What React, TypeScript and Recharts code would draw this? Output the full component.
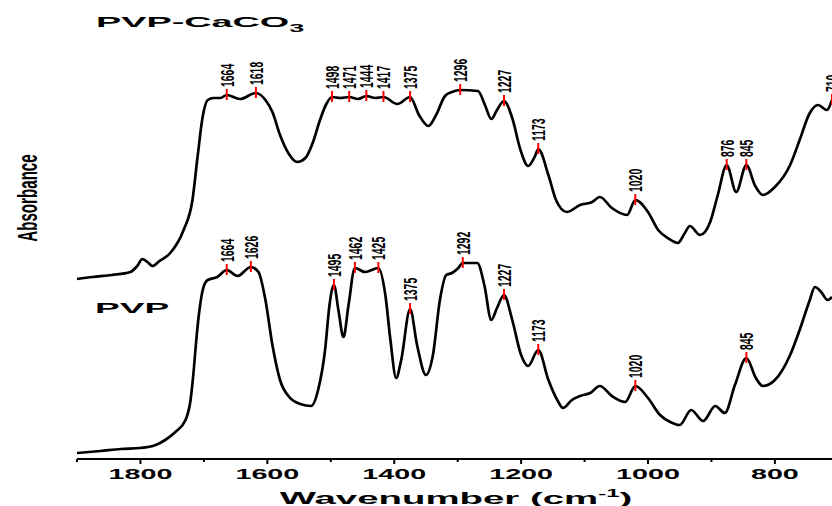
import { ComposedChart, Line, XAxis, YAxis } from 'recharts';

// wavenumber (cm-1) and absorbance (a.u.)
const compositeWn = [1900, 1875, 1845, 1816, 1805, 1797, 1789, 1781, 1770, 1753, 1732, 1718, 1710, 1702, 1694, 1685, 1674, 1664, 1643, 1618, 1603, 1592, 1580, 1567, 1553, 1540, 1528, 1517, 1507, 1498, 1485, 1471, 1457, 1444, 1430, 1417, 1395, 1375, 1361, 1346, 1334, 1320, 1309, 1296, 1268, 1257, 1247, 1238, 1227, 1214, 1201, 1189, 1178, 1173, 1157, 1145, 1128, 1107, 1088, 1076, 1057, 1033, 1020, 1000, 984, 969, 953, 942, 934, 918, 902, 890, 876, 861, 845, 831, 819, 800, 776, 761, 745, 732, 718, 710];
const compositeAbs = [1.8, 1.82, 1.84, 1.87, 1.93, 2.0, 1.97, 1.93, 1.98, 2.06, 2.29, 2.59, 3.02, 3.42, 3.59, 3.61, 3.61, 3.64, 3.6, 3.66, 3.59, 3.47, 3.24, 3.06, 2.97, 3.01, 3.17, 3.39, 3.55, 3.62, 3.61, 3.62, 3.6, 3.63, 3.61, 3.62, 3.55, 3.62, 3.44, 3.33, 3.44, 3.63, 3.67, 3.69, 3.68, 3.54, 3.4, 3.49, 3.58, 3.41, 3.09, 2.93, 3.03, 3.1, 2.84, 2.59, 2.47, 2.54, 2.57, 2.62, 2.51, 2.44, 2.59, 2.47, 2.29, 2.21, 2.16, 2.26, 2.33, 2.24, 2.37, 2.64, 2.94, 2.67, 2.94, 2.73, 2.64, 2.72, 2.94, 3.19, 3.46, 3.54, 3.49, 3.59];

const pvpWn = [1900, 1863, 1831, 1800, 1776, 1761, 1745, 1729, 1721, 1716, 1712, 1707, 1701, 1694, 1679, 1664, 1647, 1626, 1614, 1603, 1592, 1580, 1564, 1548, 1531, 1520, 1509, 1502, 1495, 1488, 1480, 1472, 1462, 1446, 1425, 1414, 1406, 1397, 1389, 1375, 1364, 1350, 1339, 1328, 1318, 1309, 1299, 1292, 1269, 1258, 1247, 1238, 1227, 1214, 1200, 1189, 1173, 1157, 1143, 1134, 1120, 1107, 1091, 1076, 1057, 1036, 1020, 1000, 981, 965, 950, 932, 913, 894, 879, 863, 845, 830, 819, 800, 776, 761, 745, 737, 727, 717, 710];
const pvpAbs = [0.06, 0.08, 0.1, 0.11, 0.14, 0.19, 0.27, 0.39, 0.59, 0.89, 1.19, 1.49, 1.71, 1.79, 1.82, 1.89, 1.83, 1.92, 1.87, 1.59, 1.14, 0.79, 0.61, 0.55, 0.53, 0.69, 1.09, 1.54, 1.74, 1.49, 1.22, 1.54, 1.91, 1.87, 1.91, 1.64, 1.19, 0.81, 0.99, 1.5, 1.14, 0.84, 1.04, 1.59, 1.84, 1.86, 1.91, 1.96, 1.96, 1.74, 1.39, 1.51, 1.64, 1.39, 1.04, 0.93, 1.09, 0.79, 0.59, 0.51, 0.59, 0.63, 0.66, 0.73, 0.63, 0.57, 0.73, 0.61, 0.44, 0.37, 0.34, 0.49, 0.38, 0.53, 0.46, 0.74, 1.01, 0.81, 0.73, 0.79, 1.04, 1.29, 1.59, 1.72, 1.67, 1.59, 1.62];

const compositePeakWn = [1664, 1618, 1498, 1471, 1444, 1417, 1375, 1296, 1227, 1173, 1020, 876, 845, 710];
const compositePeakAbs = [3.64, 3.66, 3.62, 3.62, 3.63, 3.62, 3.62, 3.69, 3.58, 3.1, 2.59, 2.94, 2.94, 3.59];
const pvpPeakWn = [1664, 1626, 1495, 1462, 1425, 1375, 1292, 1227, 1173, 1020, 845];
const pvpPeakAbs = [1.89, 1.92, 1.74, 1.91, 1.91, 1.5, 1.96, 1.64, 1.09, 0.73, 1.01];

const xTicks = [1900, 1800, 1700, 1600, 1500, 1400, 1300, 1200, 1100, 1000, 900, 800];

const zip = (wn: number[], abs: number[]) => wn.map((w, i) => ({ w, v: abs[i] }));

const compositeData = zip(compositeWn, compositeAbs);
const pvpData = zip(pvpWn, pvpAbs);
const compositePeaks = zip(compositePeakWn, compositePeakAbs);
const pvpPeaks = zip(pvpPeakWn, pvpPeakAbs);

const FONT = '"Liberation Sans", Arial, sans-serif';

const PeakMark = (props: any) => {
  const { cx, cy, payload, index } = props;
  if (cx == null || cy == null) return null;
  return (
    <g key={`pk-${index}-${payload.w}`}>
      <line x1={cx} x2={cx} y1={cy - 6} y2={cy + 5} stroke="#ff0000" strokeWidth={2} />
      <g transform={`translate(${cx},${cy - 8}) rotate(-90) scale(0.55,1)`}>
        <text x={0} y={0} dy="0.36em" fontSize={19} fontWeight="bold" fontFamily={FONT} fill="#000">
          {payload.w}
        </text>
      </g>
    </g>
  );
};

const WnTick = (props: any) => {
  const { x, y, payload } = props;
  const major = payload.value % 200 === 0;
  return (
    <g>
      <line x1={x} x2={x} y1={y} y2={y + (major ? 5 : 3)} stroke="#000" strokeWidth={2} />
      {major && (
        <g transform={`translate(${x},${y + 20}) scale(2.05,1)`}>
          <text textAnchor="middle" fontSize={14} fontWeight="bold" fontFamily={FONT} fill="#000">
            {payload.value}
          </text>
        </g>
      )}
    </g>
  );
};

export default function App() {
  return (
    <div style={{ position: 'fixed', left: 0, top: 0, width: 832, height: 506, background: '#fff' }}>
      <ComposedChart width={832} height={506} margin={{ top: 12, right: 0, left: 77, bottom: 0 }}>
        <XAxis
          xAxisId="top"
          orientation="top"
          type="number"
          dataKey="w"
          domain={[710, 1900]}
          reversed
          height={0}
          tick={false}
          tickLine={false}
          axisLine={{ stroke: '#000', strokeWidth: 2 }}
        />
        <XAxis
          type="number"
          dataKey="w"
          domain={[710, 1900]}
          reversed
          ticks={xTicks}
          interval={0}
          height={47}
          tickSize={0}
          tickMargin={0}
          tickLine={false}
          tick={<WnTick />}
          axisLine={{ stroke: '#000', strokeWidth: 2 }}
        />
        <YAxis
          type="number"
          dataKey="v"
          domain={[0, 4.47]}
          width={0}
          tick={false}
          tickLine={false}
          axisLine={{ stroke: '#000', strokeWidth: 2 }}
        />
        <Line data={compositeData} dataKey="v" type="monotone" stroke="#000" strokeWidth={2.7} dot={false} activeDot={false} isAnimationActive={false} />
        <Line data={pvpData} dataKey="v" type="monotone" stroke="#000" strokeWidth={2.7} dot={false} activeDot={false} isAnimationActive={false} />
        <Line data={compositePeaks} dataKey="v" stroke="none" dot={PeakMark} activeDot={false} isAnimationActive={false} />
        <Line data={pvpPeaks} dataKey="v" stroke="none" dot={PeakMark} activeDot={false} isAnimationActive={false} />
      </ComposedChart>
      <svg width={832} height={506} style={{ position: 'absolute', left: 0, top: 0, pointerEvents: 'none' }}>
        <g transform="translate(96,27) scale(2.7,1)">
          <text fontSize={14} fontWeight="bold" fontFamily={FONT} fill="#000">
            PVP-CaCO<tspan fontSize={10} dy={5}>3</tspan>
          </text>
        </g>
        <g transform="translate(95,313) scale(2.65,1)">
          <text fontSize={14} fontWeight="bold" fontFamily={FONT} fill="#000">PVP</text>
        </g>
        <g transform="translate(37,198) rotate(-90) scale(0.56,1)">
          <text textAnchor="middle" fontSize={27} fontWeight="bold" fontFamily={FONT} fill="#000">Absorbance</text>
        </g>
        <g transform="translate(456,504) scale(2.4,1)">
          <text textAnchor="middle" fontSize={16} fontWeight="bold" fontFamily={FONT} fill="#000">
            Wavenumber (cm<tspan fontSize={10} dy={-7}>-1</tspan><tspan dy={7}>)</tspan>
          </text>
        </g>
      </svg>
    </div>
  );
}
